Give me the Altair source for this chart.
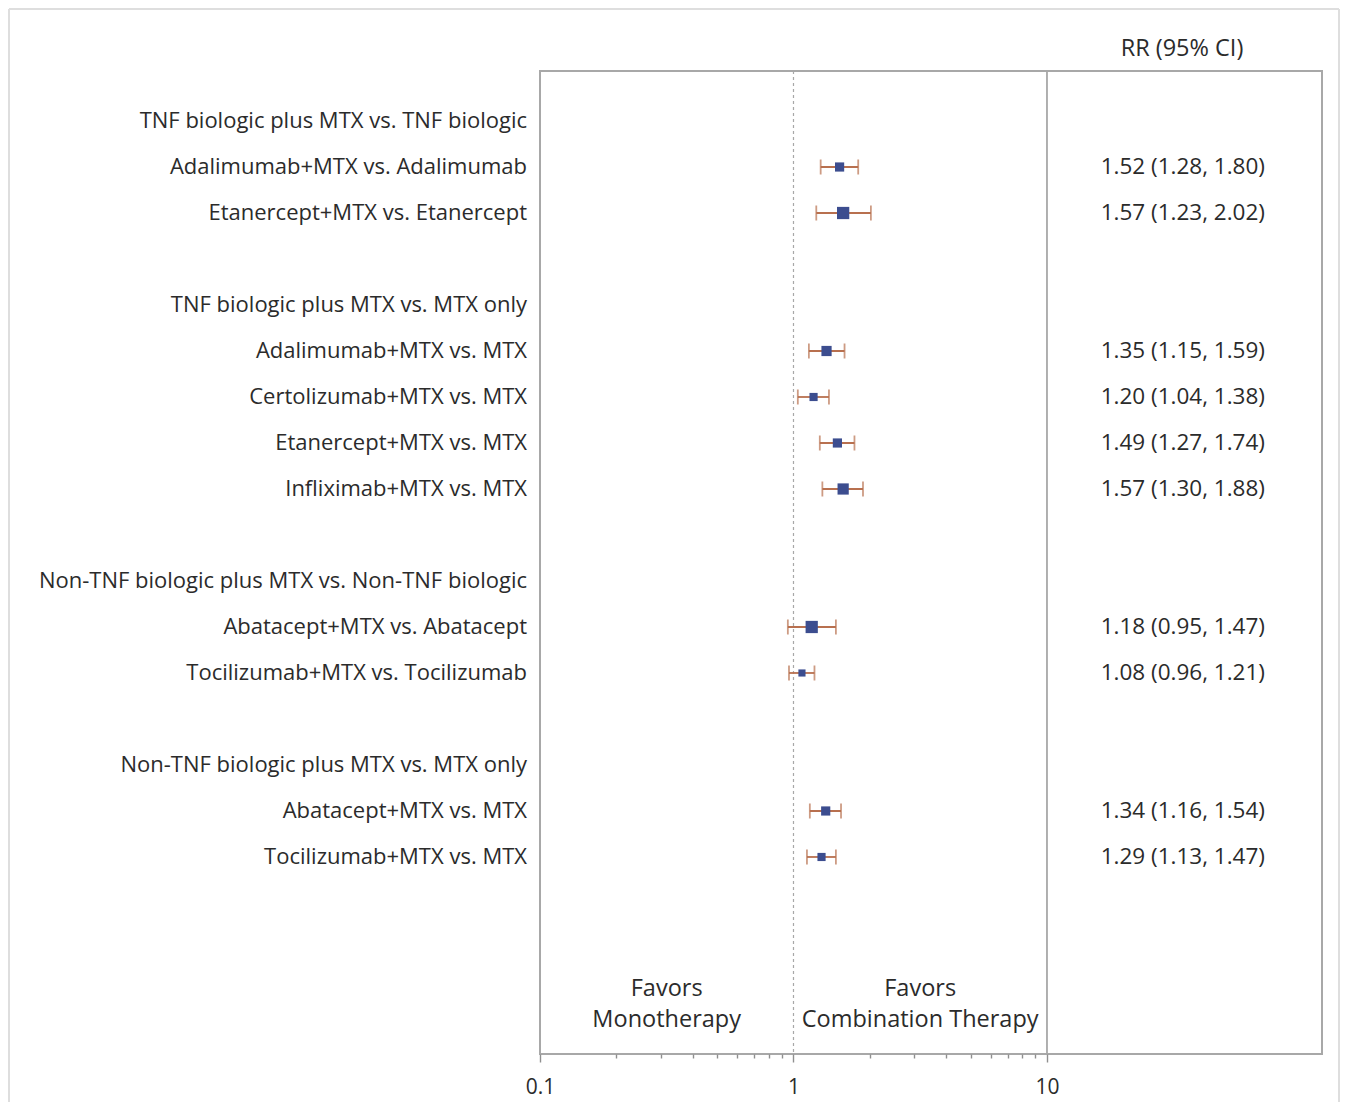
import altair as alt
import pandas as pd

# ---------------- data ----------------
label_text = [
    "TNF biologic plus MTX vs. TNF biologic",
    "Adalimumab+MTX vs. Adalimumab",
    "Etanercept+MTX vs. Etanercept",
    "TNF biologic plus MTX vs. MTX only",
    "Adalimumab+MTX vs. MTX",
    "Certolizumab+MTX vs. MTX",
    "Etanercept+MTX vs. MTX",
    "Infliximab+MTX vs. MTX",
    "Non-TNF biologic plus MTX vs. Non-TNF biologic",
    "Abatacept+MTX vs. Abatacept",
    "Tocilizumab+MTX vs. Tocilizumab",
    "Non-TNF biologic plus MTX vs. MTX only",
    "Abatacept+MTX vs. MTX",
    "Tocilizumab+MTX vs. MTX",
]
label_row = [0, 1, 2, 4, 5, 6, 7, 8, 10, 11, 12, 14, 15, 16]

est_row = [1, 2, 5, 6, 7, 8, 11, 12, 15, 16]
rr = [1.52, 1.57, 1.35, 1.20, 1.49, 1.57, 1.18, 1.08, 1.34, 1.29]
ci_lo = [1.28, 1.23, 1.15, 1.04, 1.27, 1.30, 0.95, 0.96, 1.16, 1.13]
ci_hi = [1.80, 2.02, 1.59, 1.38, 1.74, 1.88, 1.47, 1.21, 1.54, 1.47]
weight = [81, 144, 100, 64, 81, 121, 144, 49, 81, 64]

favor_text = ["Favors", "Monotherapy", "Favors", "Combination Therapy"]
favor_x = [0.316, 0.316, 3.16, 3.16]
favor_row = [18.87, 19.54, 18.87, 19.54]

tick_values = [0.1, 0.2, 0.3, 0.4, 0.5, 0.6, 0.7, 0.8, 0.9,
               1, 2, 3, 4, 5, 6, 7, 8, 9, 10]
ref_one = [1]
ref_ten = [10]

# ---------------- tables ----------------
labels_df = pd.DataFrame({"label": label_text, "row": label_row})
est_df = pd.DataFrame({
    "row": est_row, "rr": rr, "lo": ci_lo, "hi": ci_hi, "weight": weight,
    "txt": [f"{a:.2f} ({b:.2f}, {c:.2f})" for a, b, c in zip(rr, ci_lo, ci_hi)],
})
favor_df = pd.DataFrame({"t": favor_text, "x": favor_x, "row": favor_row})

FONT = "Open Sans"
TXT = "#2b2b2b"
W, H = 782, 983
BOX = "#a8a8a8"

xscale = alt.Scale(type="log", domain=[0.1, 121.6], nice=False)
yscale = alt.Scale(domain=[-1.087, 20.283], reverse=True, nice=False, zero=False)

major_test = "datum.value == 0.1 || datum.value == 1 || datum.value == 10"
xaxis = alt.Axis(
    values=tick_values,
    labelExpr="datum.value == 0.1 ? '0.1' : (datum.value == 1 ? '1' : (datum.value == 10 ? '10' : ''))",
    tickSize={"condition": {"test": major_test, "value": 8}, "value": 4},
    tickColor="#8f8f8f",
    tickWidth=1.4,
    domain=False,
    grid=False,
    title=None,
    labelFont=FONT,
    labelFontSize=21,
    labelColor=TXT,
    labelPadding=14,
    labelFlush=False,
)

base = alt.Chart(est_df)

# light frame around whole figure (left, top, right edges)
FR = "#dedede"
one = pd.DataFrame({"a": [0]})
frame_left = alt.Chart(one).mark_rule(color=FR, strokeWidth=2).encode(
    x=alt.value(-531), y=alt.value(-62), y2=alt.value(1031))
frame_top = alt.Chart(one).mark_rule(color=FR, strokeWidth=2).encode(
    x=alt.value(-531), x2=alt.value(799), y=alt.value(-62))
frame_right = alt.Chart(one).mark_rule(color=FR, strokeWidth=2).encode(
    x=alt.value(799), y=alt.value(-62), y2=alt.value(1031))

# reference lines
line_one = alt.Chart(pd.DataFrame({"v": ref_one})).mark_rule(
    color="#a8a8a8", strokeDash=[3, 3], strokeWidth=1.2
).encode(x=alt.X("v:Q", scale=xscale, axis=xaxis))

line_ten = alt.Chart(pd.DataFrame({"v": ref_ten})).mark_rule(
    color=BOX, strokeWidth=1.8
).encode(x=alt.X("v:Q", scale=xscale))

CI_COL = "#b8704f"
ci_line = base.mark_rule(color=CI_COL, strokeWidth=1.8).encode(
    x=alt.X("lo:Q", scale=xscale),
    x2="hi:Q",
    y=alt.Y("row:Q", scale=yscale, axis=None),
)
cap_lo = base.mark_tick(orient="vertical", color=CI_COL, thickness=1.8, size=15).encode(
    x=alt.X("lo:Q", scale=xscale),
    y=alt.Y("row:Q", scale=yscale, axis=None),
)
cap_hi = base.mark_tick(orient="vertical", color=CI_COL, thickness=1.8, size=15).encode(
    x=alt.X("hi:Q", scale=xscale),
    y=alt.Y("row:Q", scale=yscale, axis=None),
)
points = base.mark_square(color="#3c4d8f", opacity=1).encode(
    x=alt.X("rr:Q", scale=xscale),
    y=alt.Y("row:Q", scale=yscale, axis=None),
    size=alt.Size("weight:Q", scale=alt.Scale(domain=[0, 144], range=[0, 150]), legend=None),
)

rr_text = base.mark_text(align="right", baseline="middle", font=FONT, fontSize=22.5, color=TXT).encode(
    x=alt.value(725),
    y=alt.Y("row:Q", scale=yscale, axis=None),
    text="txt:N",
)

header = alt.Chart(pd.DataFrame({"h": ["RR (95% CI)"]})).mark_text(
    align="center", baseline="middle", font=FONT, fontSize=23.5, color=TXT
).encode(x=alt.value(642), y=alt.value(-22), text="h:N")

left_labels = alt.Chart(labels_df).mark_text(
    align="right", baseline="middle", font=FONT, fontSize=22, color=TXT
).encode(
    x=alt.value(-13),
    y=alt.Y("row:Q", scale=yscale, axis=None),
    text="label:N",
)

favors = alt.Chart(favor_df).mark_text(
    align="center", baseline="middle", font=FONT, fontSize=23.5, color=TXT
).encode(
    x=alt.X("x:Q", scale=xscale),
    y=alt.Y("row:Q", scale=yscale, axis=None),
    text="t:N",
)

chart = alt.layer(
    frame_left, frame_top, frame_right, line_one, line_ten, ci_line, cap_lo, cap_hi, points,
    rr_text, header, left_labels, favors,
).properties(
    width=W, height=H, padding=0
).configure(
    background="white",
    view=alt.ViewConfig(stroke=BOX, strokeWidth=2),
)

chart.save("out.html", embed_options={"renderer": "svg", "actions": False})
